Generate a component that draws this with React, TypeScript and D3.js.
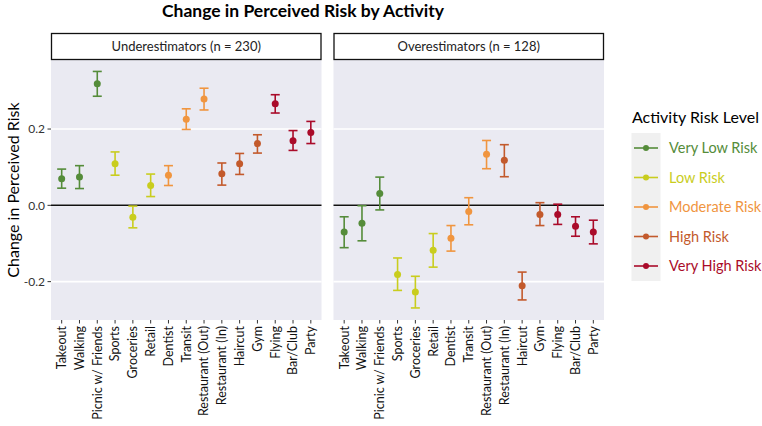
import React from "react";
import * as d3 from "d3";

const activities = ["Takeout","Walking","Picnic w/ Friends","Sports","Groceries","Retail","Dentist","Transit","Restaurant (Out)","Restaurant (In)","Haircut","Gym","Flying","Bar/Club","Party"];
const riskOfActivity = ["Very Low Risk","Very Low Risk","Very Low Risk","Low Risk","Low Risk","Low Risk","Moderate Risk","Moderate Risk","Moderate Risk","High Risk","High Risk","High Risk","Very High Risk","Very High Risk","Very High Risk"];
const riskLevels = ["Very Low Risk","Low Risk","Moderate Risk","High Risk","Very High Risk"];
const riskColors = ["#558c3a","#c9cd1e","#f0953f","#c35a2c","#aa0b2a"];
const panels = ["Underestimators (n = 230)","Overestimators (n = 128)"];

const underMean = [0.070,0.074,0.319,0.109,-0.031,0.052,0.079,0.226,0.279,0.083,0.109,0.162,0.266,0.169,0.191];
const underHi   = [0.095,0.104,0.351,0.140,-0.002,0.082,0.104,0.253,0.307,0.111,0.136,0.185,0.290,0.196,0.220];
const underLo   = [0.045,0.044,0.286,0.079,-0.059,0.023,0.052,0.199,0.250,0.053,0.081,0.137,0.242,0.144,0.162];

const overMean = [-0.070,-0.047,0.031,-0.181,-0.227,-0.118,-0.086,-0.016,0.134,0.118,-0.211,-0.024,-0.024,-0.055,-0.070];
const overHi   = [-0.030,-0.001,0.074,-0.138,-0.186,-0.074,-0.053,0.020,0.170,0.159,-0.175,0.007,0.003,-0.030,-0.039];
const overLo   = [-0.111,-0.093,-0.012,-0.223,-0.269,-0.162,-0.120,-0.051,0.096,0.075,-0.248,-0.053,-0.050,-0.081,-0.101];

const yTicks = [-0.2, 0.0, 0.2];
const yDomain = [-0.3006, 0.381];

const panelData = [
  { mean: underMean, hi: underHi, lo: underLo },
  { mean: overMean, hi: overHi, lo: overLo },
];

const FONT = "Lato, 'Open Sans', sans-serif";

export default function App() {
  const W = 762, H = 426;
  const panelX = [51, 333.5];
  const panelW = 270.5;
  const top = 60, bottom = 320;
  const y = d3.scaleLinear().domain(yDomain).range([bottom, top]);
  const color = d3.scaleOrdinal<string, string>().domain(riskLevels).range(riskColors);
  const fmt = d3.format(".1f");

  return (
    <svg width={W} height={H} style={{ position: "absolute", left: 0, top: 0, background: "#fff" }} fontFamily={FONT}>
      <text x={303} y={17} textAnchor="middle" fontSize={17.5} fontWeight="bold" fill="#000">Change in Perceived Risk by Activity</text>

      {/* y axis */}
      <text transform={`translate(19,${(top + bottom) / 2}) rotate(-90)`} textAnchor="middle" fontSize={16} fill="#000">Change in Perceived Risk</text>
      {yTicks.map((t) => (
        <g key={t}>
          <line x1={47.5} x2={51} y1={y(t)} y2={y(t)} stroke="#333" strokeWidth={1} />
          <text x={45} y={y(t)} dy="0.35em" textAnchor="end" fontSize={12} fill="#333">{t === 0 ? "0.0" : fmt(t).replace("−", "-")}</text>
        </g>
      ))}

      {panels.map((pname, pi) => {
        const x0 = panelX[pi];
        const x = d3.scalePoint<string>().domain(activities).range([x0, x0 + panelW]).padding(0.6);
        const pd = panelData[pi];
        return (
          <g key={pname}>
            <rect x={x0} y={top} width={panelW} height={bottom - top} fill="#eaeaf2" />
            {yTicks.map((t) => (
              <line key={t} x1={x0} x2={x0 + panelW} y1={y(t)} y2={y(t)} stroke="#fff" strokeWidth={1.6} />
            ))}
            <line x1={x0} x2={x0 + panelW} y1={y(0)} y2={y(0)} stroke="#111" strokeWidth={1.5} />
            <rect x={x0 + 0.5} y={33.5} width={panelW - 1} height={26} fill="#fff" stroke="#111" strokeWidth={1.3} />
            <text x={x0 + panelW / 2} y={46.5} dy="0.35em" textAnchor="middle" fontSize={13} fill="#222">{pname}</text>
            {activities.map((a, i) => {
              const cx = x(a)!;
              const c = color(riskOfActivity[i]);
              return (
                <g key={a}>
                  <line x1={cx} x2={cx} y1={bottom} y2={bottom + 3.5} stroke="#333" strokeWidth={1} />
                  <text transform={`translate(${cx},${bottom + 6}) rotate(-90)`} textAnchor="end" dy="0.35em" fontSize={12.5} fill="#111">{a}</text>
                  <line x1={cx} x2={cx} y1={y(pd.hi[i])} y2={y(pd.lo[i])} stroke={c} strokeWidth={1.6} />
                  <line x1={cx - 4.5} x2={cx + 4.5} y1={y(pd.hi[i])} y2={y(pd.hi[i])} stroke={c} strokeWidth={1.6} />
                  <line x1={cx - 4.5} x2={cx + 4.5} y1={y(pd.lo[i])} y2={y(pd.lo[i])} stroke={c} strokeWidth={1.6} />
                  <circle cx={cx} cy={y(pd.mean[i])} r={3.5} fill={c} />
                </g>
              );
            })}
          </g>
        );
      })}

      {/* legend */}
      <text x={632} y={123} fontSize={16} fill="#000">Activity Risk Level</text>
      <rect x={631.5} y={133} width={29} height={148} fill="#f0f0f0" />
      {riskLevels.map((lv, i) => {
        const ly = 148 + i * 29.5;
        const c = riskColors[i];
        return (
          <g key={lv}>
            <line x1={634} x2={658} y1={ly} y2={ly} stroke={c} strokeWidth={1.6} />
            <circle cx={646} cy={ly} r={3} fill={c} />
            <text x={669} y={ly} dy="0.35em" fontSize={14.5} fill={c}>{lv}</text>
          </g>
        );
      })}
    </svg>
  );
}
